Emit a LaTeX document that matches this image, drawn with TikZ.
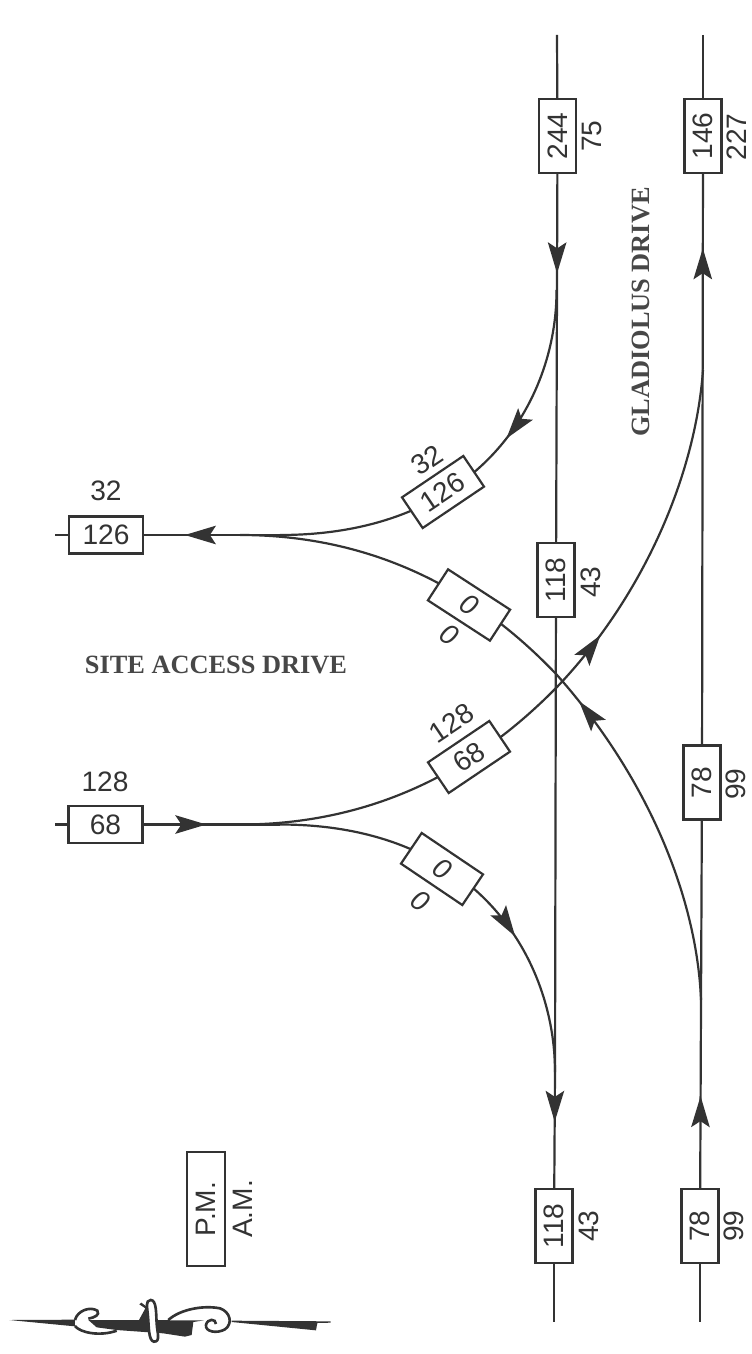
\documentclass[tikz,border=0pt]{standalone}
\usepackage{fontspec}
\setmainfont{Liberation Serif}
\setsansfont{Liberation Sans}
\usepackage{xcolor}
\usepackage{tikz}
\usetikzlibrary{arrows.meta,backgrounds,decorations.markings}
\definecolor{roadink}{HTML}{333333}
\tikzset{
  road/.style={draw=roadink, line width=1.25pt},
  vol/.style={draw=roadink, fill=white, line width=1.25pt, inner sep=0pt, text=roadink,
              minimum width=1.48cm, minimum height=0.74cm, font=\fontsize{16}{18}\selectfont\sffamily},
  amlabel/.style={inner sep=0pt, text=roadink, font=\fontsize{16}{18}\selectfont\sffamily},
  streetname/.style={inner sep=0pt, text=roadink!90, font=\fontsize{15}{17}\selectfont\rmfamily\bfseries},
  flowarr/.style={postaction={decorate, decoration={markings, mark=at position #1 with
                  {\arrow{Stealth[length=0.62cm, width=0.37cm, inset=0.12cm, color=roadink]}}}}},
}
\begin{document}
\begin{tikzpicture}[x=0.02cm, y=-0.02cm]
  \useasboundingbox (0,0) rectangle (751,1354);
  % road ends and branch points
  \coordinate (northL) at (557,35);
  \coordinate (southL) at (554,1322);
  \coordinate (northR) at (703,35);
  \coordinate (southR) at (700,1322);
  \coordinate (stubE) at (55,535);
  \coordinate (stubW) at (55,824.5);
  \coordinate (splitE) at (280,535);
  \coordinate (splitW) at (280,824.5);
  \coordinate (joinE) at (240,535);
  \coordinate (joinW) at (240,824.5);
  \coordinate (crossA) at (557,675);
  \coordinate (crossB) at (557,687);
  \coordinate (branchN) at (556.5,290);
  \coordinate (branchS) at (555,1072);
  \coordinate (branchSR) at (701,1000);
  \coordinate (branchNR) at (703,370);
  % GLADIOLUS DRIVE volumes
  \node[vol, rotate=90] (v244) at (557.5,136) {244};
  \node[amlabel, rotate=90] (a75) at (592,136) {75};
  \node[vol, rotate=90] (v146) at (703,136) {146};
  \node[amlabel, rotate=90] (a227) at (737,137) {227};
  \node[vol, rotate=90] (v118m) at (556,580) {118};
  \node[amlabel, rotate=90] (a43m) at (591,582) {43};
  \node[vol, rotate=90] (v78m) at (702,782.5) {78};
  \node[amlabel, rotate=90] (a99m) at (736,784) {99};
  \node[vol, rotate=90] (v118s) at (554,1226) {118};
  \node[amlabel, rotate=90] (a43s) at (589,1226) {43};
  \node[vol, rotate=90] (v78s) at (700,1226) {78};
  \node[amlabel, rotate=90] (a99s) at (734,1226) {99};
  % SITE ACCESS DRIVE volumes
  \node[vol] (v126) at (106,535) {126};
  \node[amlabel] (a32) at (106,491) {32};
  \node[vol] (v68) at (105.5,824.5) {68};
  \node[amlabel] (a128) at (105,782) {128};
  % turning volumes
  \node[vol, rotate=34] (t126) at (443,492) {126};
  \node[amlabel, rotate=34] (ta32) at (427,460) {32};
  \node[vol, rotate=-33] (t0e) at (469,605) {\itshape 0};
  \node[amlabel, rotate=-33] (ta0e) at (449,635) {\itshape 0};
  \node[vol, rotate=34] (t68) at (469,757) {68};
  \node[amlabel, rotate=34] (ta128) at (452,723) {128};
  \node[vol, rotate=-34] (t0w) at (442,869) {\itshape 0};
  \node[amlabel, rotate=-34] (ta0w) at (420,901) {\itshape 0};
  % names and legend
  \node[streetname, rotate=90] (gladiolus) at (641,312) {GLADIOLUS DRIVE};
  \node[streetname] (site) at (216,665) {SITE ACCESS DRIVE};
  \node[vol, minimum width=2.28cm, minimum height=0.76cm, rotate=90] (pm) at (206,1209) {P.M.};
  \node[amlabel, rotate=90] (am) at (243,1209) {A.M.};
  % connectors under the boxes
  \begin{scope}[on background layer]
    \draw[road] (northL) -- (v244);
    \draw[road, flowarr=0.27] (v244) -- (v118m);
    \draw[road] (v118m) -- (branchS);
    \draw[road, flowarr=0.43] (branchS) -- (v118s);
    \draw[road] (v118s) -- (southL);
    \draw[road] (northR) -- (v146);
    \draw[road, flowarr=0.87] (v78m) -- (v146);
    \draw[road, flowarr=0.25] (v78s) -- (v78m);
    \draw[road] (v78s) -- (southR);
    \draw[road] (stubE) -- (v126);
    \draw[road, flowarr=0.70] (splitE) -- (v126);
    \draw[road] (stubW) -- (v68);
    \draw[road, flowarr=0.46] (v68) -- (splitW);
    % curved movements
    \draw[road, flowarr=0.385] (branchN) .. controls (557,400) and (480,535) .. (splitE);
    \draw[road, flowarr=0.456] (branchSR) .. controls (697,900) and (650,780) .. (crossA)
      .. controls (500,615) and (400,535) .. (joinE);
    \draw[road, flowarr=0.595] (joinW) .. controls (400,824.5) and (500,745) .. (crossB)
      .. controls (640,600) and (695,480) .. (branchNR);
    \draw[road, flowarr=0.655] (splitW) .. controls (480,824.5) and (555,962) .. (branchS);
  \end{scope}
  % north arrow
  \begin{scope}[shift={(0,1270)}, x=0.00667cm, y=-0.00667cm]
    \fill[roadink] (28,150) -- (225,149) -- (225,169) -- cycle;
    \fill[roadink] (695,152) -- (992,154) -- (992,158) -- (952,159) -- (948,181) -- (695,156) -- cycle;
    \fill[roadink] (265,150) -- (612,151) -- (580,156) -- (575,195) -- (555,200) -- (490,190)
      -- (350,180) -- (290,172) -- cycle;
    \draw[roadink, line width=1.5pt] (225,150) .. controls (232,122) and (270,108) .. (292,122)
      .. controls (300,135) and (285,142) .. (265,146);
    \draw[roadink, line width=1.5pt] (225,168) .. controls (240,188) and (300,200) .. (350,182);
    \draw[roadink, fill=white, line width=1.5pt] (452,90) .. controls (470,90) and (468,130) .. (470,160)
      .. controls (472,190) and (482,215) .. (462,215) .. controls (445,212) and (447,170) .. (444,140)
      .. controls (442,110) and (435,92) .. (452,90) -- cycle;
    \fill[roadink] (417,150) -- (436,115) -- (418,103) -- (424,98) -- (443,112) -- (446,150) -- cycle;
    \draw[roadink, line width=1.5pt] (505,150) .. controls (540,118) and (610,105) .. (660,115)
      .. controls (690,125) and (700,160) .. (675,178) .. controls (650,192) and (615,185) .. (618,165)
      .. controls (622,145) and (648,145) .. (648,162);
  \end{scope}
\end{tikzpicture}
\end{document}
